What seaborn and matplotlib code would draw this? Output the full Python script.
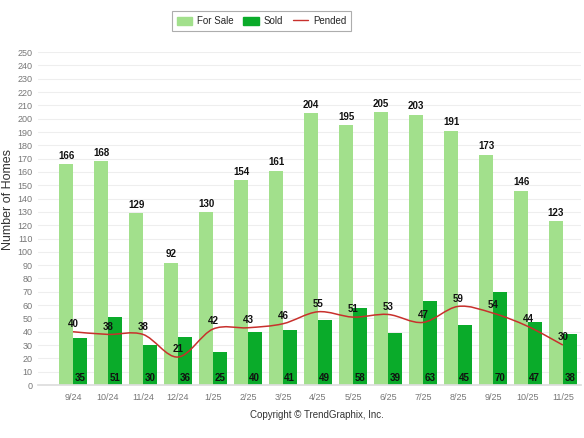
import numpy as np
import pandas as pd
import seaborn as sns
import matplotlib.pyplot as plt
from matplotlib.path import Path
from matplotlib.patches import PathPatch, Patch
from matplotlib.lines import Line2D

months = ["9/24", "10/24", "11/24", "12/24", "1/25", "2/25", "3/25", "4/25",
          "5/25", "6/25", "7/25", "8/25", "9/25", "10/25", "11/25"]
for_sale = [166, 168, 129, 92, 130, 154, 161, 204, 195, 205, 203, 191, 173, 146, 123]
sold = [35, 51, 30, 36, 25, 40, 41, 49, 58, 39, 63, 45, 70, 47, 38]
pended = [40, 38, 38, 21, 42, 43, 46, 55, 51, 53, 47, 59, 54, 44, 30]

c_sale = "#a2e08c"
c_sold = "#0aab2a"
c_pend = "#c8302c"

sns.set_theme(style="white")
plt.rcParams["font.family"] = ["Liberation Sans", "DejaVu Sans"]

df = pd.DataFrame({
    "month": months * 2,
    "value": for_sale + sold,
    "kind": ["For Sale"] * len(months) + ["Sold"] * len(months),
})

fig = plt.figure(figsize=(5.84, 4.38), dpi=100)
ax = fig.add_axes([0.065, 0.121, 0.93, 0.760])

sns.barplot(data=df, x="month", y="value", hue="kind", order=months,
            palette={"For Sale": c_sale, "Sold": c_sold}, width=0.78,
            saturation=1, legend=False, linewidth=0, ax=ax, zorder=2)

# smooth spline for pended (bezier through the data points)
xs = np.arange(len(pended), dtype=float)
ys = np.array(pended, dtype=float)
verts = [(xs[0], ys[0])]
codes = [Path.MOVETO]
t = 1.0 / 3.0
for i in range(len(xs) - 1):
    p0 = (xs[i - 1], ys[i - 1]) if i > 0 else (xs[i], ys[i])
    p1 = (xs[i], ys[i])
    p2 = (xs[i + 1], ys[i + 1])
    p3 = (xs[i + 2], ys[i + 2]) if i + 2 < len(xs) else p2
    c1 = (p1[0] + (p2[0] - p0[0]) * t / 2, p1[1] + (p2[1] - p0[1]) * t / 2)
    c2 = (p2[0] - (p3[0] - p1[0]) * t / 2, p2[1] - (p3[1] - p1[1]) * t / 2)
    verts += [c1, c2, p2]
    codes += [Path.CURVE4] * 3
ax.add_patch(PathPatch(Path(verts, codes), fill=False, edgecolor=c_pend,
                       lw=1.1, zorder=4))

lab = dict(fontsize=7, fontweight="bold", color="#111111", ha="center", zorder=5)
for i in range(len(months)):
    ax.text(i - 0.195, for_sale[i] + 2.5, str(for_sale[i]), va="bottom", **lab)
    ax.text(i + 0.195, 1.5, str(sold[i]), va="bottom", **lab)
    ax.text(i, pended[i] + 2.0, str(pended[i]), va="bottom", **lab)

ax.set_xlim(-1.0, 14.52)
ax.set_ylim(0, 250)
ax.set_yticks(range(0, 251, 10))
ax.yaxis.grid(True, color="#eeeeee", lw=0.8, zorder=0)
ax.set_axisbelow(True)
for s in ["top", "right", "left"]:
    ax.spines[s].set_visible(False)
ax.spines["bottom"].set_color("#dddddd")
ax.set_xlabel("")
ax.set_ylabel("")
ax.tick_params(axis="y", length=0, labelsize=6.5, labelcolor="#777777", pad=4)
ax.tick_params(axis="x", length=0, labelsize=6.5, labelcolor="#777777", pad=6)

fig.text(0.013, 0.545, "Number of Homes", rotation=90, ha="center", va="center",
         fontsize=9, color="#333333")
fig.text(0.543, 0.052, "Copyright \u00a9 TrendGraphix, Inc.", ha="center",
         va="center", fontsize=7, color="#333333")

handles = [Patch(color=c_sale, label="For Sale"), Patch(color=c_sold, label="Sold"),
           Line2D([], [], color=c_pend, lw=1, label="Pended")]
leg = fig.legend(handles=handles, loc="center", bbox_to_anchor=(0.448, 0.952),
                 ncol=3, fontsize=7, frameon=True, fancybox=False, shadow=False,
                 handlelength=1.6, handleheight=0.9, columnspacing=1.0,
                 handletextpad=0.5, borderpad=0.5)
leg.get_frame().set_edgecolor("#999999")
leg.get_frame().set_linewidth(0.8)

fig.savefig("out.png", dpi=100)
